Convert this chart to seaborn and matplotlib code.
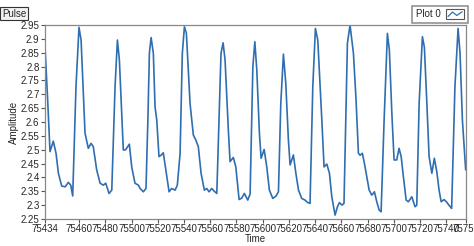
import matplotlib
matplotlib.use("Agg")
import matplotlib.pyplot as plt
import seaborn as sns
import pandas as pd
from matplotlib.lines import Line2D
from matplotlib.patches import Rectangle
from matplotlib.legend_handler import HandlerBase
from matplotlib.ticker import FuncFormatter

time = [75434, 75436, 75437.8, 75440.3, 75442.4, 75444.2, 75446.7, 75449.3, 75451.8, 75453.6,
        75455.1, 75457.6, 75459.9, 75461.5, 75464.5, 75467, 75469.1, 75470.8, 75473.4, 75476,
        75478.5, 75480.3, 75482.8, 75484.9, 75487.4, 75489.2, 75490.7, 75493.7, 75495.5, 75498.3,
        75500.1, 75502.6, 75505.2, 75506.5, 75509, 75511, 75512.5, 75513.6, 75514.9, 75516.6,
        75517.9, 75519.2, 75520.9, 75522.5, 75524.2, 75526.1, 75528.6, 75530.6, 75533.2, 75534.9,
        75537, 75538.7, 75540.3, 75541.8, 75544.6, 75547.1, 75549, 75550.9, 75553, 75555.5,
        75557.3, 75559.1, 75561.1, 75563.1, 75565, 75566.7, 75568.2, 75569.8, 75571.3, 75573.8,
        75575.1, 75577.6, 75579.5, 75582, 75584, 75586, 75588.6, 75590.4, 75592.5, 75594,
        75595.5, 75597.5, 75598.8, 75601.1, 75603.1, 75605.1, 75607.7, 75610.2, 75612, 75613.8,
        75615.8, 75617.6, 75619.6, 75620.9, 75623.4, 75625.3, 75627.3, 75629.8, 75632.3, 75634.1,
        75636.1, 75638.2, 75640.2, 75642, 75645.1, 75646.8, 75648.9, 75650.9, 75652.7, 75655.2,
        75657, 75658.5, 75660.5, 75662, 75664.6, 75666.6, 75669.2, 75671.2, 75673, 75674.3,
        75676, 75677.6, 75679.4, 75681.2, 75683.2, 75685.2, 75687, 75688.8, 75690.3, 75692.6,
        75695.1, 75696.6, 75698.5, 75700.2, 75702.2, 75704, 75705.6, 75707.3, 75709.4, 75711.1,
        75713.7, 75716.2, 75717.5, 75719.3, 75721.8, 75723.3, 75725.2, 75726.9, 75729, 75730.9,
        75732.8, 75734.5, 75736.1, 75738.3, 75740.1, 75742, 75744.1, 75746.6, 75749, 75750.5,
        75752.3, 75754.8]

amplitude = [2.87, 2.68, 2.493, 2.531, 2.487, 2.415, 2.369, 2.366, 2.382, 2.372,
             2.333, 2.727, 2.942, 2.896, 2.56, 2.505, 2.523, 2.511, 2.427, 2.379,
             2.372, 2.379, 2.342, 2.354, 2.727, 2.896, 2.824, 2.499, 2.50, 2.52,
             2.438, 2.379, 2.372, 2.36, 2.348, 2.36, 2.62, 2.85, 2.905, 2.848,
             2.655, 2.607, 2.475, 2.48, 2.489, 2.427, 2.348, 2.36, 2.354, 2.372,
             2.487, 2.848, 2.944, 2.92, 2.667, 2.553, 2.535, 2.511, 2.415, 2.354,
             2.36, 2.348, 2.36, 2.35, 2.342, 2.607, 2.848, 2.886, 2.824, 2.571,
             2.457, 2.472, 2.438, 2.32, 2.325, 2.342, 2.318, 2.34, 2.80, 2.89,
             2.788, 2.559, 2.469, 2.501, 2.438, 2.354, 2.324, 2.333, 2.348, 2.667,
             2.845, 2.74, 2.535, 2.445, 2.481, 2.415, 2.354, 2.324, 2.318, 2.31,
             2.306, 2.727, 2.938, 2.896, 2.607, 2.438, 2.448, 2.415, 2.33, 2.264,
             2.294, 2.309, 2.30, 2.306, 2.884, 2.95, 2.848, 2.679, 2.487, 2.48,
             2.487, 2.45, 2.402, 2.354, 2.336, 2.348, 2.312, 2.282, 2.276, 2.607,
             2.92, 2.86, 2.631, 2.463, 2.463, 2.505, 2.475, 2.402, 2.318, 2.312,
             2.33, 2.294, 2.30, 2.667, 2.908, 2.87, 2.667, 2.475, 2.415, 2.469,
             2.42, 2.354, 2.312, 2.32, 2.312, 2.30, 2.288, 2.727, 2.938, 2.848,
             2.607, 2.427]

x_ticks = [75434, 75460, 75480, 75500, 75520, 75540, 75560, 75580, 75600, 75620,
           75640, 75660, 75680, 75700, 75720, 75740, 75755]
y_ticks = [2.25, 2.3, 2.35, 2.4, 2.45, 2.5, 2.55, 2.6, 2.65, 2.7, 2.75, 2.8, 2.85, 2.9, 2.95]

sns.set_style("ticks")
plt.rcParams['font.family'] = ['Liberation Sans', 'DejaVu Sans']

fig = plt.figure(figsize=(4.74, 2.46), dpi=100)
ax = fig.add_axes([0.095, 0.110, 0.888, 0.788])

df = pd.DataFrame({"Time": time, "Amplitude": amplitude})
line_color = "#2f6eb0"
sns.lineplot(data=df, x="Time", y="Amplitude", ax=ax, color=line_color,
             linewidth=1.2, sort=False, estimator=None)

ax.set_xlim(75434, 75755)
ax.set_ylim(2.25, 2.95)
ax.set_xticks(x_ticks)
ax.set_yticks(y_ticks)
ax.yaxis.set_major_formatter(FuncFormatter(lambda v, p: f"{v:g}"))
ax.tick_params(axis='both', labelsize=7, length=3, width=0.8, color="#555555", pad=1)
for s in ax.spines.values():
    s.set_color("#888888")
    s.set_linewidth(0.9)
ax.set_xlabel("Time", fontsize=7, labelpad=0)
ax.set_ylabel("Amplitude", fontsize=7, labelpad=1)

fig.text(0.004, 0.945, "Pulse", fontsize=7, va='center', ha='left',
         bbox=dict(boxstyle='square,pad=0.15', fc='#f2f2f2', ec='#333333', lw=0.8))


class BoxedWaveHandler(HandlerBase):
    def create_artists(self, legend, orig_handle, xdescent, ydescent, width, height,
                       fontsize, trans):
        box = Rectangle((-xdescent, -ydescent - 1), width, height + 2, fc='white',
                        ec='#555555', lw=0.8, transform=trans)
        xs = [-xdescent + width * f for f in (0.1, 0.35, 0.6, 0.9)]
        ys = [-ydescent + height * f for f in (0.15, 0.8, 0.3, 0.85)]
        wave = Line2D(xs, ys, color=orig_handle.get_color(), lw=0.9, transform=trans)
        return [box, wave]


handle = Line2D([0], [0], color=line_color, lw=1.0)
leg = fig.legend([handle], ["Plot 0"], loc='upper right', bbox_to_anchor=(0.997, 0.997),
                 fontsize=7, frameon=True, fancybox=False, edgecolor='#777777',
                 handlelength=1.8, borderpad=0.4, handletextpad=0.6, markerfirst=False,
                 handler_map={Line2D: BoxedWaveHandler()})
leg.get_frame().set_linewidth(1.2)

fig.savefig("out.png", dpi=100)
